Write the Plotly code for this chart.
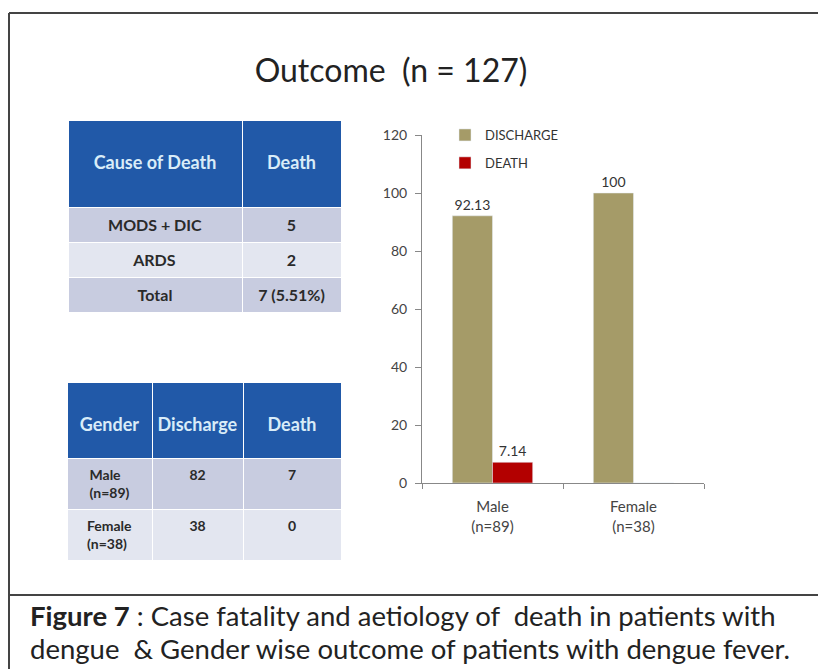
import plotly.graph_objects as go

# the page body keeps its default 8px margin, so the figure is drawn 8px smaller
# and every position below is given in page pixels and shifted by OFF
W, H = 826, 669
OFF = 8
FW, FH = W - OFF, H - OFF

# chart data
genders = ["Male<br>(n=89)", "Female<br>(n=38)"]
discharge_pct = [92.13, 100]
death_pct = [7.14, 0]
y_ticks = [0, 20, 40, 60, 80, 100, 120]

# cause of death table
cause_header = ["Cause of Death", "Death"]
causes = ["MODS + DIC", "ARDS", "Total"]
cause_deaths = ["5", "2", "7 (5.51%)"]

# gender table
gender_header = ["Gender", "Discharge", "Death"]
gender_rows = ["Male<br>(n=89)", "Female<br>(n=38)"]
gender_discharge = ["82", "38"]
gender_death = ["7", "0"]

FONT = "Lato"
HEAD_BLUE = "#2159a8"
HEAD_TXT = "#d9ecf8"
ROW_DARK = "#c8cce0"
ROW_LIGHT = "#e3e6f0"


def px_x(p):
    return (p - OFF) / FW


def px_y(p):
    return 1 - (p - OFF) / FH


def label(v):
    return f"{v:g}" if v else ""


def head(h):
    # go.Table has no vertical alignment, push header text to the middle
    return f"&nbsp;<br><b>{h}</b>"


def cell(t):
    return f"<b>{t}</b>".replace(" (", "&nbsp;(")


fig = go.Figure()

fig.add_trace(go.Bar(
    x=genders, y=discharge_pct, name="DISCHARGE", legendgroup="a",
    marker=dict(color="#a59b68"),
    text=[label(v) for v in discharge_pct], textposition="outside",
    textfont=dict(family=FONT, size=14, color="#333"),
    cliponaxis=False,
))
fig.add_trace(go.Bar(
    x=genders, y=death_pct, name="DEATH", legendgroup="b",
    marker=dict(color="#b30000"),
    text=[label(v) for v in death_pct], textposition="outside",
    textfont=dict(family=FONT, size=14, color="#333"),
    cliponaxis=False,
))

# cause of death table
fig.add_trace(go.Table(
    domain=dict(x=[px_x(68), px_x(341)], y=[px_y(316), px_y(120)]),
    columnwidth=[174, 99],
    header=dict(
        values=[head(h) for h in cause_header],
        fill_color=HEAD_BLUE, line=dict(color="white", width=1),
        font=dict(family=FONT, size=18, color=HEAD_TXT),
        align="center", height=87,
    ),
    cells=dict(
        values=[[cell(c) for c in causes], [cell(d) for d in cause_deaths]],
        fill_color=[[ROW_DARK, ROW_LIGHT, ROW_DARK]] * 2,
        line=dict(color="white", width=1),
        font=dict(family=FONT, size=16, color="#2a2a2a"),
        align="center", height=35,
    ),
))

# gender table
fig.add_trace(go.Table(
    domain=dict(x=[px_x(67), px_x(341)], y=[px_y(560), px_y(382)]),
    columnwidth=[85, 91, 98],
    header=dict(
        values=[head(h) for h in gender_header],
        fill_color=HEAD_BLUE, line=dict(color="white", width=1),
        font=dict(family=FONT, size=18, color=HEAD_TXT),
        align="center", height=76,
    ),
    cells=dict(
        values=[[cell(g) for g in gender_rows],
                [cell(v) for v in gender_discharge],
                [cell(v) for v in gender_death]],
        fill_color=[[ROW_DARK, ROW_LIGHT]] * 3,
        line=dict(color="white", width=1),
        font=dict(family=FONT, size=14, color="#2a2a2a"),
        align="center", height=50,
    ),
))

# frame and caption divider
frame = dict(color="#444", width=2)
shapes = [
    dict(type="line", xref="paper", yref="paper", x0=px_x(9), x1=1,
         y0=px_y(13), y1=px_y(13), line=frame),
    dict(type="line", xref="paper", yref="paper", x0=px_x(9), x1=px_x(9),
         y0=px_y(13), y1=0, line=frame),
    dict(type="line", xref="paper", yref="paper", x0=px_x(9), x1=1,
         y0=px_y(595), y1=px_y(595), line=frame),
]

caption_lines = [
    "<b>Figure 7</b> : Case fatality and aetiology of&nbsp; death in patients with",
    "dengue&nbsp; &amp; Gender wise outcome of patients with dengue fever.",
]
caption_y = [615, 648]

annotations = [
    dict(text=t, xref="paper", yref="paper", x=px_x(28), y=px_y(cy),
         xanchor="left", yanchor="middle", align="left", showarrow=False,
         font=dict(family=FONT, size=27.5, color="#222"))
    for t, cy in zip(caption_lines, caption_y)
]

fig.update_layout(
    width=FW, height=FH,
    margin=dict(l=0, r=0, t=0, b=0, autoexpand=False),
    paper_bgcolor="white", plot_bgcolor="white",
    barmode="group", bargap=0.43, bargroupgap=0,
    title=dict(text="Outcome&nbsp; (n = 127)", x=px_x(391), y=px_y(71),
               xanchor="center", yanchor="middle",
               font=dict(family=FONT, size=32, color="#222")),
    xaxis=dict(domain=[px_x(422), px_x(704)], showline=True, linecolor="#888",
               ticks="outside", tickson="boundaries", ticklen=5, tickcolor="#888",
               ticklabelstandoff=10, automargin=False,
               tickfont=dict(family=FONT, size=15, color="#444")),
    yaxis=dict(domain=[px_y(483), px_y(135)], range=[0, 120], tickvals=y_ticks,
               showline=True, linecolor="#888", showgrid=False, zeroline=False,
               ticks="outside", ticklen=6, tickcolor="#888", automargin=False,
               ticklabelstandoff=5,
               tickfont=dict(family=FONT, size=14, color="#444")),
    legend=dict(x=px_x(445), y=px_y(120), xanchor="left", yanchor="top",
                bgcolor="rgba(0,0,0,0)", tracegroupgap=8, itemwidth=30,
                font=dict(family=FONT, size=13, color="#333")),
    shapes=shapes,
    annotations=annotations,
)

fig.write_html("out.html")
